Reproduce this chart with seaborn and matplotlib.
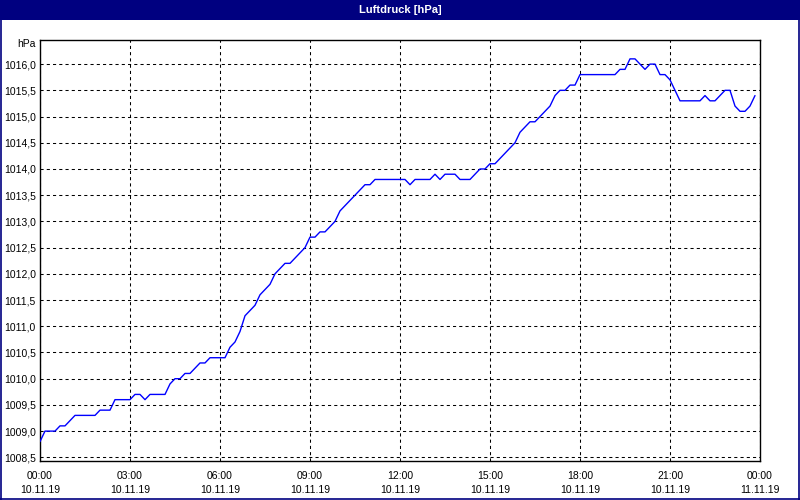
import numpy as np
import pandas as pd
import matplotlib
matplotlib.use("Agg")
import matplotlib.pyplot as plt
import matplotlib.dates as mdates
from matplotlib.ticker import FuncFormatter, FixedLocator
from matplotlib.patches import Rectangle
from matplotlib.lines import Line2D
import seaborn as sns

# ---- data (10-minute readings, 10.11.19 00:00 .. 23:50) ----
start_time = "2019-11-10 00:00"
interval = "10min"
pressure_hpa = [
    1008.8, 1009.0, 1009.0, 1009.0, 1009.1, 1009.1, 1009.2, 1009.3, 1009.3, 1009.3,
    1009.3, 1009.3, 1009.4, 1009.4, 1009.4, 1009.6, 1009.6, 1009.6, 1009.6, 1009.7,
    1009.7, 1009.6, 1009.7, 1009.7, 1009.7, 1009.7, 1009.9, 1010.0, 1010.0, 1010.1,
    1010.1, 1010.2, 1010.3, 1010.3, 1010.4, 1010.4, 1010.4, 1010.4, 1010.6, 1010.7,
    1010.9, 1011.2, 1011.3, 1011.4, 1011.6, 1011.7, 1011.8, 1012.0, 1012.1, 1012.2,
    1012.2, 1012.3, 1012.4, 1012.5, 1012.7, 1012.7, 1012.8, 1012.8, 1012.9, 1013.0,
    1013.2, 1013.3, 1013.4, 1013.5, 1013.6, 1013.7, 1013.7, 1013.8, 1013.8, 1013.8,
    1013.8, 1013.8, 1013.8, 1013.8, 1013.7, 1013.8, 1013.8, 1013.8, 1013.8, 1013.9,
    1013.8, 1013.9, 1013.9, 1013.9, 1013.8, 1013.8, 1013.8, 1013.9, 1014.0, 1014.0,
    1014.1, 1014.1, 1014.2, 1014.3, 1014.4, 1014.5, 1014.7, 1014.8, 1014.9, 1014.9,
    1015.0, 1015.1, 1015.2, 1015.4, 1015.5, 1015.5, 1015.6, 1015.6, 1015.8, 1015.8,
    1015.8, 1015.8, 1015.8, 1015.8, 1015.8, 1015.8, 1015.9, 1015.9, 1016.1, 1016.1,
    1016.0, 1015.9, 1016.0, 1016.0, 1015.8, 1015.8, 1015.7, 1015.5, 1015.3, 1015.3,
    1015.3, 1015.3, 1015.3, 1015.4, 1015.3, 1015.3, 1015.4, 1015.5, 1015.5, 1015.2,
    1015.1, 1015.1, 1015.2, 1015.4,
]
y_ticks = [1008.5, 1009.0, 1009.5, 1010.0, 1010.5, 1011.0, 1011.5, 1012.0,
           1012.5, 1013.0, 1013.5, 1014.0, 1014.5, 1015.0, 1015.5, 1016.0]
title_text = "Luftdruck [hPa]"
unit_text = "hPa"
x_start = "2019-11-10 00:00"
x_end = "2019-11-11 00:00"

times = pd.date_range(start_time, periods=len(pressure_hpa), freq=interval)
df = pd.DataFrame({"time": times, "hPa": pressure_hpa})

# ---- style ----
sns.set_style("white")
plt.rcParams["font.family"] = ["Liberation Sans", "DejaVu Sans"]
FS = 7.5

W, H = 800, 500
fig = plt.figure(figsize=(W / 100, H / 100), dpi=100)
fig.patch.set_facecolor("white")

# axes placement (pixels): left 40, right 760, top 40, bottom 461
ax = fig.add_axes([40 / W, 1 - 461 / H, 720 / W, 421 / H])
ax.set_facecolor("white")

sns.lineplot(data=df, x="time", y="hPa", ax=ax, color="#0000FF",
             linewidth=1.0, zorder=3)

ax.set_xlim(pd.Timestamp(x_start), pd.Timestamp(x_end))
ax.set_ylim(1008.43, 1016.46)

ax.xaxis.set_major_locator(mdates.HourLocator(byhour=range(0, 24, 3)))
ax.xaxis.set_minor_locator(mdates.HourLocator())
ax.xaxis.set_major_formatter(mdates.DateFormatter("%H:%M\n%d.%m.%y"))
ax.yaxis.set_major_locator(FixedLocator(y_ticks))
ax.yaxis.set_major_formatter(FuncFormatter(lambda v, p: f"{v:.1f}".replace(".", ",")))

ax.tick_params(axis="x", which="both", direction="out", length=3, width=0.8,
               color="black", pad=4, labelsize=FS, labelcolor="black")
ax.tick_params(axis="y", which="both", length=0, pad=3, labelsize=FS,
               labelcolor="black")
for lbl in ax.get_xticklabels():
    lbl.set_linespacing(1.55)

ax.grid(True, which="major", color="black", linestyle=(0, (3, 3)),
        linewidth=0.75, zorder=1)
ax.set_axisbelow(True)
for s in ax.spines.values():
    s.set_visible(True)
    s.set_color("black")
    s.set_linewidth(1.0)

ax.set_xlabel("")
ax.set_ylabel("")

# unit label
fig.text(36 / W, 1 - 44 / H, unit_text, ha="right", va="center",
         fontsize=FS, color="black")

# title bar
fig.patches.append(Rectangle((0, 1 - 20 / H), 1, 20 / H, transform=fig.transFigure,
                             facecolor="#000080", edgecolor="none", zorder=0))
fig.text(0.5, 1 - 10 / H, title_text, ha="center", va="center",
         fontsize=8, fontweight="bold", color="white")
# window border (1 px navy frame)
navy = "#000080"
for xs, ys in [((0.6 / W, 0.6 / W), (0, 1)),
               ((1 - 0.6 / W, 1 - 0.6 / W), (0, 1)),
               ((0, 1), (0.6 / H, 0.6 / H))]:
    fig.lines.append(Line2D(xs, ys, transform=fig.transFigure, color=navy,
                            linewidth=1.2, zorder=10))

fig.savefig("out.png", dpi=100)
